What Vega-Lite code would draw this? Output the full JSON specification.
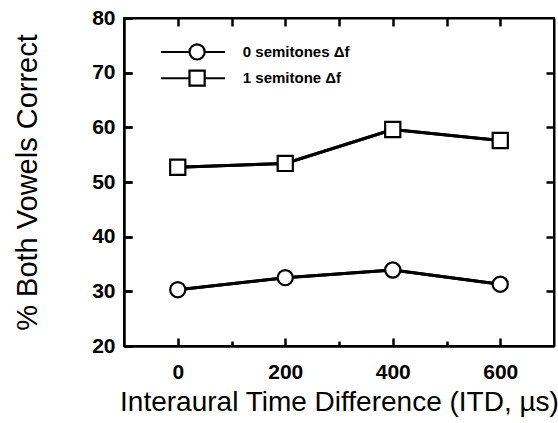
{
  "$schema": "https://vega.github.io/schema/vega-lite/v6.json",
  "width": 430,
  "height": 328,
  "autosize": "none",
  "padding": {"left": 124, "top": 18, "right": 4, "bottom": 77},
  "background": "white",
  "config": {
    "view": {"stroke": "black", "strokeWidth": 2},
    "font": "Liberation Sans",
    "axis": {
      "domain": true,
      "domainColor": "black",
      "domainWidth": 2,
      "grid": true,
      "gridOpacity": 0,
      "ticks": true,
      "tickColor": "black",
      "tickWidth": 2.5,
      "labelColor": "black",
      "labelFont": "Liberation Sans",
      "labelFontSize": 21,
      "labelFontWeight": "bold",
      "titleColor": "black",
      "titleFont": "Liberation Sans",
      "titleFontSize": 28,
      "titleFontWeight": "normal"
    }
  },
  "data": {
    "values": [
      {"itd": 0, "pct": 30.3, "cond": "0 semitones Δf"},
      {"itd": 200, "pct": 32.5, "cond": "0 semitones Δf"},
      {"itd": 400, "pct": 33.9, "cond": "0 semitones Δf"},
      {"itd": 600, "pct": 31.3, "cond": "0 semitones Δf"},
      {"itd": 0, "pct": 52.7, "cond": "1 semitone Δf"},
      {"itd": 200, "pct": 53.4, "cond": "1 semitone Δf"},
      {"itd": 400, "pct": 59.6, "cond": "1 semitone Δf"},
      {"itd": 600, "pct": 57.6, "cond": "1 semitone Δf"}
    ]
  },
  "layer": [
    {
      "mark": {"type": "line", "stroke": "black", "strokeWidth": 3},
      "encoding": {
        "x": {
          "field": "itd", "type": "quantitative",
          "scale": {"domain": [-100, 700], "nice": false, "zero": false},
          "axis": {
            "orient": "bottom", "values": [0, 200, 400, 600], "tickSize": -8,
            "labelPadding": 23, "title": "Interaural Time Difference (ITD, µs)", "titlePadding": 6
          }
        },
        "y": {
          "field": "pct", "type": "quantitative",
          "scale": {"domain": [20, 80], "nice": false, "zero": false},
          "axis": {
            "orient": "left", "values": [20, 30, 40, 50, 60, 70, 80], "tickSize": -8,
            "labelPadding": 17, "title": "% Both Vowels Correct", "titlePadding": 49, "titleFontSize": 29
          }
        },
        "detail": {"field": "cond", "type": "nominal"}
      }
    },
    {
      "mark": {"type": "line", "stroke": "black", "strokeWidth": 3},
      "encoding": {
        "x": {
          "field": "itd", "type": "quantitative",
          "scale": {"domain": [-100, 700], "nice": false, "zero": false},
          "axis": {"orient": "bottom", "values": [100, 300, 500], "tickSize": -5, "labels": false, "title": null}
        },
        "y": {
          "field": "pct", "type": "quantitative",
          "scale": {"domain": [20, 80], "nice": false, "zero": false},
          "axis": {"orient": "right", "values": [30, 40, 50, 60, 70], "tickSize": -8, "labels": false, "title": null}
        },
        "detail": {"field": "cond", "type": "nominal"}
      }
    },
    {
      "mark": {"type": "point", "filled": true, "fill": "white", "stroke": "black", "strokeWidth": 2.2, "size": 230, "opacity": 1},
      "encoding": {
        "x": {
          "field": "itd", "type": "quantitative",
          "scale": {"domain": [-100, 700], "nice": false, "zero": false},
          "axis": {"orient": "top", "values": [0, 100, 200, 300, 400, 500, 600], "tickSize": -8, "labels": false, "title": null}
        },
        "y": {
          "field": "pct", "type": "quantitative",
          "scale": {"domain": [20, 80], "nice": false, "zero": false},
          "axis": {"orient": "left", "values": [20, 30, 40, 50, 60, 70, 80], "tickSize": -8, "labels": false, "title": null}
        },
        "shape": {
          "field": "cond", "type": "nominal",
          "scale": {"domain": ["0 semitones Δf", "1 semitone Δf"], "range": ["circle", "square"]},
          "legend": null
        }
      }
    },
    {
      "data": {"values": [{"cond": "0 semitones Δf"}]},
      "encoding": {"y": {"datum": 73.8, "type": "quantitative", "axis": null}},
      "layer": [
        {
          "mark": {"type": "rule", "stroke": "black", "strokeWidth": 2},
          "encoding": {
            "x": {"datum": -31, "type": "quantitative", "axis": null},
            "x2": {"datum": 88}
          }
        },
        {
          "mark": {"type": "point", "filled": true, "fill": "white", "stroke": "black", "strokeWidth": 2.2, "size": 230, "opacity": 1},
          "encoding": {
            "x": {"datum": 36, "type": "quantitative", "axis": null},
            "shape": {"field": "cond", "type": "nominal", "legend": null}
          }
        },
        {
          "mark": {"type": "text", "align": "left", "baseline": "middle", "font": "Liberation Sans", "fontSize": 15, "fontWeight": "bold", "color": "black"},
          "encoding": {
            "x": {"datum": 121, "type": "quantitative", "axis": null},
            "text": {"field": "cond"}
          }
        }
      ]
    },
    {
      "data": {"values": [{"cond": "1 semitone Δf"}]},
      "encoding": {"y": {"datum": 69.0, "type": "quantitative", "axis": null}},
      "layer": [
        {
          "mark": {"type": "rule", "stroke": "black", "strokeWidth": 2},
          "encoding": {
            "x": {"datum": -31, "type": "quantitative", "axis": null},
            "x2": {"datum": 88}
          }
        },
        {
          "mark": {"type": "point", "filled": true, "fill": "white", "stroke": "black", "strokeWidth": 2.2, "size": 230, "opacity": 1},
          "encoding": {
            "x": {"datum": 36, "type": "quantitative", "axis": null},
            "shape": {"field": "cond", "type": "nominal", "legend": null}
          }
        },
        {
          "mark": {"type": "text", "align": "left", "baseline": "middle", "font": "Liberation Sans", "fontSize": 15, "fontWeight": "bold", "color": "black"},
          "encoding": {
            "x": {"datum": 121, "type": "quantitative", "axis": null},
            "text": {"field": "cond"}
          }
        }
      ]
    }
  ],
  "resolve": {"axis": {"x": "independent", "y": "independent"}}
}
